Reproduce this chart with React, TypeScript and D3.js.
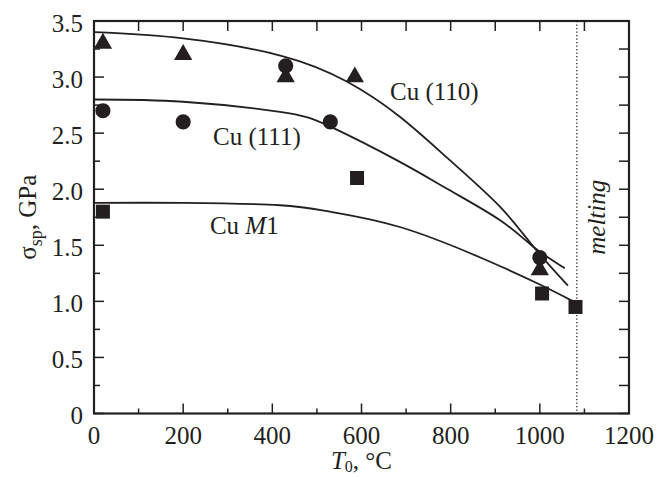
import * as d3 from 'd3';
import { useEffect, useRef } from 'react';

// measured points (T0 in °C, sigma in GPa)
const triT = [20, 200, 430, 585, 1000];
const triS = [3.3, 3.2, 3.0, 3.0, 1.28];
const circT = [20, 200, 430, 530, 1000];
const circS = [2.7, 2.6, 3.1, 2.6, 1.39];
const sqT = [20, 590, 1005, 1080];
const sqS = [1.8, 2.1, 1.07, 0.95];

// model curves
const cu110T = [0, 200, 420, 567, 686, 798, 911, 986, 1063];
const cu110S = [3.4, 3.345, 3.19, 2.96, 2.646, 2.259, 1.842, 1.485, 1.14];
const cu111T = [0, 200, 417, 529, 686, 798, 911, 986, 1056];
const cu111S = [2.8, 2.78, 2.69, 2.56, 2.244, 1.99, 1.723, 1.485, 1.295];
const cuM1T = [0, 200, 417, 529, 686, 873, 1000, 1075];
const cuM1S = [1.878, 1.878, 1.857, 1.8, 1.663, 1.38, 1.15, 1.0];

const meltingT = 1083;
const xTicks = [0, 200, 400, 600, 800, 1000, 1200];
const yTicks = [0, 0.5, 1.0, 1.5, 2.0, 2.5, 3.0, 3.5];
const yTickLabels = ['0', '0.5', '1.0', '1.5', '2.0', '2.5', '3.0', '3.5'];

function App() {
  const svgRef = useRef(null);

  useEffect(() => {
    const svg = d3.select(svgRef.current);
    svg.selectAll('*').remove();

    const W = 659, H = 477;
    const margin = { top: 21, right: 30, bottom: 63.5, left: 94 };
    const width = W - margin.left - margin.right;
    const height = H - margin.top - margin.bottom;
    const font = '"Liberation Serif", "Times New Roman", serif';
    const ink = '#231f20';

    const x = d3.scaleLinear().domain([0, 1200]).range([0, width]);
    const y = d3.scaleLinear().domain([0, 3.5]).range([height, 0]);

    const g = svg.append('g').attr('transform', `translate(${margin.left},${margin.top})`);

    // ticks, all inside the frame
    const tk = g.append('g').attr('stroke', ink).attr('stroke-width', 1.5);
    d3.range(0, 1201, 100).forEach(v => {
      const major = v % 200 === 0;
      tk.append('line').attr('x1', x(v)).attr('x2', x(v)).attr('y1', height).attr('y2', height - (major ? 10 : 5));
      tk.append('line').attr('x1', x(v)).attr('x2', x(v)).attr('y1', 0).attr('y2', 10);
    });
    d3.range(0, 3.51, 0.25).forEach(v => {
      const major = Math.abs(v * 2 - Math.round(v * 2)) < 1e-6;
      tk.append('line').attr('x1', 0).attr('x2', major ? 10 : 6).attr('y1', y(v)).attr('y2', y(v));
      tk.append('line').attr('x1', width).attr('x2', width - 10).attr('y1', y(v)).attr('y2', y(v));
    });

    // frame
    g.append('rect')
      .attr('x', 0).attr('y', 0).attr('width', width).attr('height', height)
      .attr('fill', 'none').attr('stroke', ink).attr('stroke-width', 2.2);

    // tick labels
    g.append('g').selectAll('text').data(xTicks).join('text')
      .attr('x', d => x(d)).attr('y', height + 30)
      .attr('text-anchor', 'middle')
      .style('font-family', font).style('font-size', '25px').attr('fill', ink)
      .text(d => d);
    g.append('g').selectAll('text').data(yTicks).join('text')
      .attr('x', -11).attr('y', d => y(d) + 10.5)
      .attr('text-anchor', 'end')
      .style('font-family', font).style('font-size', '25px').attr('fill', ink)
      .text((d, i) => yTickLabels[i]);

    // melting line
    g.append('line')
      .attr('x1', x(meltingT)).attr('x2', x(meltingT)).attr('y1', 0).attr('y2', height)
      .attr('stroke', ink).attr('stroke-width', 1.3).attr('stroke-dasharray', '1.3,2.2');
    g.append('text')
      .attr('transform', `translate(${x(meltingT) + 28},${y(1.75)}) rotate(-90)`)
      .attr('text-anchor', 'middle')
      .style('font-family', font).style('font-size', '25px').style('font-style', 'italic')
      .attr('fill', ink)
      .text('melting');

    // curves
    const line = d3.line().x(d => x(d[0])).y(d => y(d[1])).curve(d3.curveNatural);
    [[cu110T, cu110S], [cu111T, cu111S], [cuM1T, cuM1S]].forEach(([ts, ss]) => {
      g.append('path')
        .datum(ts.map((t, i) => [t, ss[i]]))
        .attr('fill', 'none').attr('stroke', ink).attr('stroke-width', 1.8)
        .attr('d', line);
    });

    // markers
    const mk = (ts, ss, type, size) => {
      g.append('g').selectAll('path').data(ts.map((t, i) => [t, ss[i]])).join('path')
        .attr('transform', d => `translate(${x(d[0])},${y(d[1])})`)
        .attr('d', d3.symbol().type(type).size(size)())
        .attr('fill', ink);
    };
    mk(triT, triS, d3.symbolTriangle, 145);
    mk(circT, circS, d3.symbolCircle, 180);
    mk(sqT, sqS, d3.symbolSquare, 196);

    // curve labels
    const lab = (t, s, parts) => {
      const el = g.append('text').attr('x', x(t)).attr('y', y(s))
        .style('font-family', font).style('font-size', '25px').attr('fill', ink);
      parts.forEach(([txt, it]) => el.append('tspan').style('font-style', it ? 'italic' : 'normal').text(txt));
    };
    lab(664, 2.8, [['Cu (110)', false]]);
    lab(267, 2.39, [['Cu (111)', false]]);
    lab(260, 1.598, [['Cu ', false], ['M', true], ['1', false]]);

    // axis titles
    const xt = svg.append('text')
      .attr('x', margin.left + width / 2).attr('y', 469)
      .attr('text-anchor', 'middle')
      .style('font-family', font).style('font-size', '25px').attr('fill', ink);
    xt.append('tspan').style('font-style', 'italic').text('T');
    xt.append('tspan').attr('dy', 3).style('font-size', '16px').text('0');
    xt.append('tspan').attr('dy', -3).text(', °C');

    const yt = svg.append('text')
      .attr('transform', `translate(36,${margin.top + height / 2}) rotate(-90)`)
      .attr('text-anchor', 'middle')
      .style('font-family', font).style('font-size', '25px').attr('fill', ink);
    yt.append('tspan').text('σ');
    yt.append('tspan').attr('dy', 6).style('font-size', '18px').text('sp');
    yt.append('tspan').attr('dy', -6).text(', GPa');
  }, []);

  return (
    <div style={{ position: 'absolute', left: 0, top: 0 }}>
      <svg ref={svgRef} width={659} height={477} style={{ display: 'block', background: '#fff' }}></svg>
    </div>
  );
}

export default App;
